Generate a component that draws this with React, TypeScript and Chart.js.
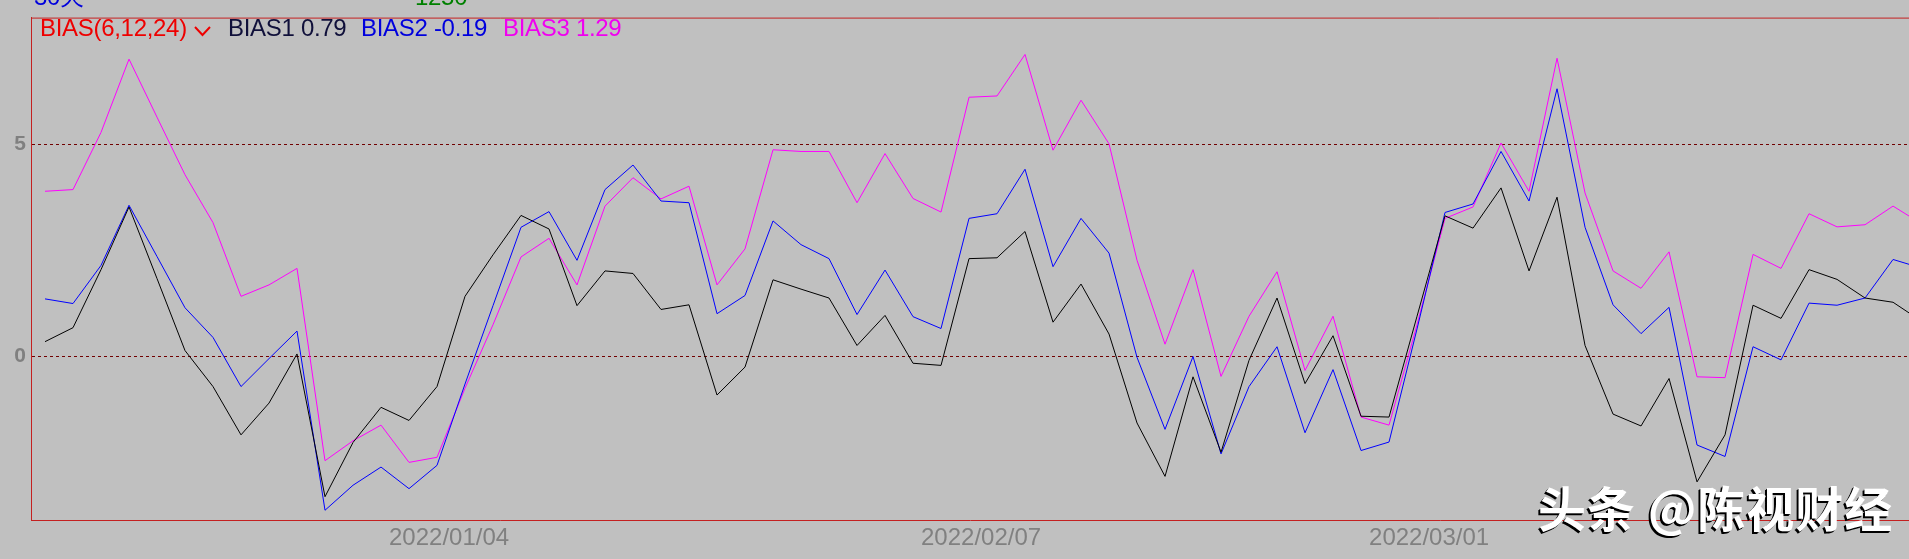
import React, { useEffect, useRef } from 'react';
import { Chart, registerables } from 'chart.js';

Chart.register(...registerables);

// BIAS1 (6-day), BIAS2 (12-day), BIAS3 (24-day) per trading day (index 0..67)
const bias1 = [
  0.35, 0.68, 2.05, 3.53, 1.84, 0.14, -0.71, -1.85, -1.10, 0.06,
  -3.31, -2.03, -1.20, -1.51, -0.71, 1.42, 2.40, 3.33, 3.01, 1.20,
  2.02, 1.96, 1.11, 1.22, -0.91, -0.25, 1.81, 1.59, 1.38, 0.26,
  0.97, -0.16, -0.21, 2.31, 2.33, 2.95, 0.81, 1.71, 0.53, -1.57,
  -2.83, -0.48, -2.26, -0.09, 1.38, -0.64, 0.49, -1.41, -1.43, 0.95,
  3.32, 3.03, 3.98, 2.02, 3.76, 0.26, -1.36, -1.64, -0.52, -2.96,
  -1.85, 1.21, 0.90, 2.05, 1.82, 1.38, 1.28, 0.84,
];
const bias2 = [
  1.36, 1.25, 2.15, 3.57, 2.36, 1.15, 0.45, -0.71, -0.05, 0.60,
  -3.63, -3.04, -2.61, -3.12, -2.57, -0.65, 1.20, 3.05, 3.42, 2.27,
  3.94, 4.52, 3.67, 3.63, 1.01, 1.44, 3.20, 2.64, 2.31, 0.99,
  2.04, 0.94, 0.66, 3.26, 3.37, 4.42, 2.12, 3.26, 2.44, -0.02,
  -1.72, 0.00, -2.30, -0.71, 0.23, -1.80, -0.31, -2.22, -2.02, 0.65,
  3.40, 3.60, 4.84, 3.67, 6.32, 3.05, 1.22, 0.54, 1.16, -2.09,
  -2.36, 0.23, -0.08, 1.26, 1.21, 1.38, 2.29, 2.09,
];
const bias3 = [
  3.90, 3.94, 5.29, 7.02, 5.65, 4.29, 3.16, 1.42, 1.69, 2.08,
  -2.46, -1.99, -1.62, -2.50, -2.38, -0.75, 0.75, 2.35, 2.79, 1.69,
  3.55, 4.22, 3.72, 4.02, 1.69, 2.54, 4.88, 4.84, 4.84, 3.63,
  4.79, 3.73, 3.41, 6.12, 6.15, 7.13, 4.87, 6.05, 5.02, 2.27,
  0.29, 2.05, -0.47, 0.95, 2.00, -0.33, 0.95, -1.43, -1.62, 0.75,
  3.26, 3.53, 5.04, 3.90, 7.04, 3.86, 2.02, 1.61, 2.47, -0.48,
  -0.50, 2.41, 2.08, 3.37, 3.06, 3.11, 3.55, 3.14,
];

const dateTickIndex = [12, 31, 47];
const dateTickLabels = ['2022/01/04', '2022/02/07', '2022/03/01'];
const yTickValues = [0, 5];

const seriesNames = ['BIAS1', 'BIAS2', 'BIAS3'];
const seriesLastValues = ['0.79', '-0.19', '1.29'];

const FRAME = '#c42020';
const BG = '#c0c0c0';

export default function App() {
  const ref = useRef<HTMLCanvasElement | null>(null);

  useEffect(() => {
    const canvas = ref.current;
    if (!canvas) return;
    const toPts = (arr: number[]) => arr.map((y, i) => ({ x: i, y }));

    const topLine = {
      id: 'topLine',
      afterDraw(chart: any) {
        const { ctx, chartArea } = chart;
        ctx.save();
        ctx.strokeStyle = FRAME;
        ctx.lineWidth = 1;
        ctx.beginPath();
        ctx.moveTo(chartArea.left, chartArea.top + 0.5);
        ctx.lineTo(chartArea.right, chartArea.top + 0.5);
        ctx.stroke();
        ctx.restore();
      },
    };

    const chart = new Chart(canvas, {
      type: 'line',
      data: {
        datasets: [
          { label: seriesNames[0], data: toPts(bias1), borderColor: '#000000', borderWidth: 1, pointRadius: 0, tension: 0, fill: false },
          { label: seriesNames[1], data: toPts(bias2), borderColor: '#0000ff', borderWidth: 1, pointRadius: 0, tension: 0, fill: false },
          { label: seriesNames[2], data: toPts(bias3), borderColor: '#ff00ff', borderWidth: 1, pointRadius: 0, tension: 0, fill: false },
        ],
      },
      options: {
        animation: false,
        responsive: false,
        maintainAspectRatio: false,
        events: [],
        layout: { padding: { top: 10, right: 0, bottom: 0, left: 0 } },
        plugins: { legend: { display: false }, tooltip: { enabled: false } },
        scales: {
          x: {
            type: 'linear',
            min: -0.5,
            max: 66.57,
            afterFit: (s: any) => { s.height = 39; },
            afterBuildTicks: (s: any) => { s.ticks = dateTickIndex.map((v) => ({ value: v })); },
            grid: { display: false, drawTicks: false },
            border: { display: true, color: FRAME, width: 1 },
            ticks: {
              autoSkip: false,
              maxRotation: 0,
              minRotation: 0,
              align: 'start',
              labelOffset: 8,
              padding: 4,
              color: '#808080',
              font: { family: '"Liberation Sans", Arial, sans-serif', size: 24 },
              callback: (v: any) => {
                const k = dateTickIndex.indexOf(Number(v));
                return k >= 0 ? dateTickLabels[k] : '';
              },
            },
          },
          y: {
            type: 'linear',
            min: -3.86,
            max: 8.0,
            afterFit: (s: any) => { s.width = 31; },
            afterBuildTicks: (s: any) => { s.ticks = yTickValues.map((v) => ({ value: v })); },
            grid: { display: true, color: '#700000', lineWidth: 1, drawTicks: false },
            border: { display: true, color: FRAME, width: 1, dash: [3, 3] },
            ticks: {
              padding: 5,
              color: '#808080',
              font: { family: '"Liberation Sans", Arial, sans-serif', size: 21, weight: 'bold' },
              callback: (v: any) => String(v),
            },
          },
        },
      },
      plugins: [topLine],
    } as any);

    return () => chart.destroy();
  }, []);

  const legendFont = '"Liberation Sans", Arial, sans-serif';
  const legendStyle = (left: number, color: string): React.CSSProperties => ({
    position: 'absolute',
    left,
    top: 16,
    fontFamily: legendFont,
    fontSize: 24,
    lineHeight: '24px',
    letterSpacing: '-0.3px',
    color,
    whiteSpace: 'pre',
  });

  return (
    <div style={{ position: 'absolute', left: 0, top: 0, width: 1909, height: 559, background: BG, overflow: 'hidden' }}>
      <canvas ref={ref} width={1909} height={559} style={{ display: 'block', width: 1909, height: 559 }} />
      <span style={{ ...legendStyle(34, '#0000dd'), top: -15 }}>30天</span>
      <span style={{ ...legendStyle(415, '#008000'), top: -15 }}>1250</span>
      <span style={legendStyle(40, '#ee0000')}>BIAS(6,12,24)</span>
      <svg style={{ position: 'absolute', left: 192, top: 24 }} width={22} height={14}>
        <polyline points="3,3 10.5,11 18,3" fill="none" stroke="#ee0000" strokeWidth={2} />
      </svg>
      <span style={legendStyle(228, '#10103a')}>{`${seriesNames[0]} ${seriesLastValues[0]}`}</span>
      <span style={legendStyle(361, '#0000dd')}>{`${seriesNames[1]} ${seriesLastValues[1]}`}</span>
      <span style={legendStyle(503, '#f000f0')}>{`${seriesNames[2]} ${seriesLastValues[2]}`}</span>
      <div
        style={{
          position: 'absolute',
          left: 1538,
          top: 476,
          fontFamily: '"Noto Sans CJK SC", sans-serif',
          fontWeight: 700,
          fontSize: 48,
          lineHeight: '60px',
          letterSpacing: '1px',
          color: '#ffffff',
          whiteSpace: 'pre',
          textShadow: '-2px 2px 0 #000, -1px 1px 0 #222',
        }}
      >
        头条 @陈视财经
      </div>
    </div>
  );
}
